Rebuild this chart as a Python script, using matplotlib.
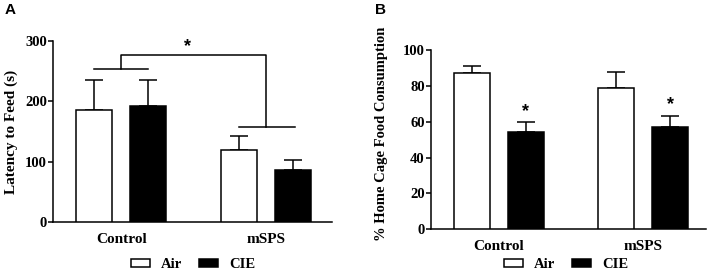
import matplotlib.pyplot as plt
from matplotlib.patches import Patch

groups = ['Control', 'mSPS']
treatments = ['Air', 'CIE']

# Panel A: latency to feed (s)
latency_air = [185, 120]
latency_air_sem = [50, 23]
latency_cie = [192, 87]
latency_cie_sem = [44, 15]

# Panel B: % home cage food consumption
food_air = [87, 79]
food_air_sem = [3.8, 8.7]
food_cie = [54.5, 57.3]
food_cie_sem = [5.2, 6.0]

SERIF = 'Liberation Serif'
plt.rcParams['font.family'] = SERIF
plt.rcParams['font.weight'] = 'bold'
LW = 1.1

fig = plt.figure(figsize=(7.08, 2.75), dpi=100)
axA = fig.add_axes([53 / 708, 1 - 222 / 275, (332 - 53) / 708, (222 - 41) / 275])
axB = fig.add_axes([431 / 708, 1 - 229.3 / 275, (706 - 431) / 708, (229.3 - 50) / 275])

x_air = [0, 4.03]
x_cie = [1.5, 5.53]


def draw_bars(ax, air, air_sem, cie, cie_sem, legend_x):
    ax.bar(x_air, air, width=1.0, color='white', edgecolor='black', linewidth=LW, zorder=3)
    ax.bar(x_cie, cie, width=1.0, color='black', edgecolor='black', linewidth=LW, zorder=3)
    for xs, vals, sems in [(x_air, air, air_sem), (x_cie, cie, cie_sem)]:
        ax.errorbar(xs, vals, yerr=[[0] * len(sems), sems], fmt='none', ecolor='black',
                    elinewidth=LW, capsize=6.5, capthick=LW, zorder=2)
    ax.spines['top'].set_visible(False)
    ax.spines['right'].set_visible(False)
    ax.spines['left'].set_linewidth(LW)
    ax.spines['bottom'].set_linewidth(LW)
    centers = [(a + c) / 2 for a, c in zip(x_air, x_cie)]
    ax.set_xticks(centers)
    ax.set_xticklabels(groups, fontsize=11, fontweight='bold')
    ax.tick_params(axis='x', length=0, pad=8)
    ax.tick_params(axis='y', length=3.5, width=LW, labelsize=10.5, pad=1)
    for lab in ax.get_yticklabels():
        lab.set_fontweight('bold')
    handles = [Patch(facecolor='white', edgecolor='black', linewidth=LW),
               Patch(facecolor='black', edgecolor='black', linewidth=LW)]
    leg = fig.legend(handles, treatments, loc='center', bbox_to_anchor=(legend_x, 1 - 265 / 275),
                     bbox_transform=fig.transFigure, ncol=2, frameon=False, fontsize=10.5,
                     handlelength=1.3, handleheight=0.45, columnspacing=1.15,
                     handletextpad=0.75, borderpad=0, borderaxespad=0)
    for t in leg.get_texts():
        t.set_fontweight('bold')
    return centers


# Panel A
cA = draw_bars(axA, latency_air, latency_air_sem, latency_cie, latency_cie_sem, 193 / 708)
axA.set_xlim(-1.15, 6.6)
axA.set_ylim(0, 300)
axA.set_yticks([0, 100, 200, 300])
axA.set_ylabel('Latency to Feed (s)', fontsize=11, fontweight='bold', labelpad=5)
# significance bracket
yc, yt, ym = 253, 276, 157
axA.plot([x_air[0], x_cie[0]], [yc, yc], color='black', lw=LW, clip_on=False)
axA.plot([cA[0], cA[0], cA[1], cA[1]], [yc, yt, yt, ym], color='black', lw=LW, clip_on=False)
axA.plot([x_air[1], x_cie[1] + 0.05], [ym, ym], color='black', lw=LW, clip_on=False)
axA.text(2.6, 284, '*', ha='center', va='baseline', fontsize=13, fontweight='bold',
         family='Liberation Sans')

# Panel B
draw_bars(axB, food_air, food_air_sem, food_cie, food_cie_sem, 566 / 708)
axB.set_xlim(-1.14, 6.53)
axB.set_ylim(0, 100)
axB.set_yticks([0, 20, 40, 60, 80, 100])
axB.set_ylabel('% Home Cage Food Consumption', fontsize=10.5, fontweight='bold')
axB.yaxis.set_label_coords(-0.155, 0.534)
for xs, v, s in zip(x_cie, food_cie, food_cie_sem):
    axB.text(xs, v + s + 3.5, '*', ha='center', va='baseline', fontsize=13,
             fontweight='bold', family='Liberation Sans')

fig.text(10 / 708, 1 - 10 / 275, 'A', ha='center', va='center', fontsize=11,
         fontweight='bold', family='Liberation Sans')
fig.text(381 / 708, 1 - 10 / 275, 'B', ha='center', va='center', fontsize=11,
         fontweight='bold', family='Liberation Sans')

fig.savefig('out.png', dpi=100)
